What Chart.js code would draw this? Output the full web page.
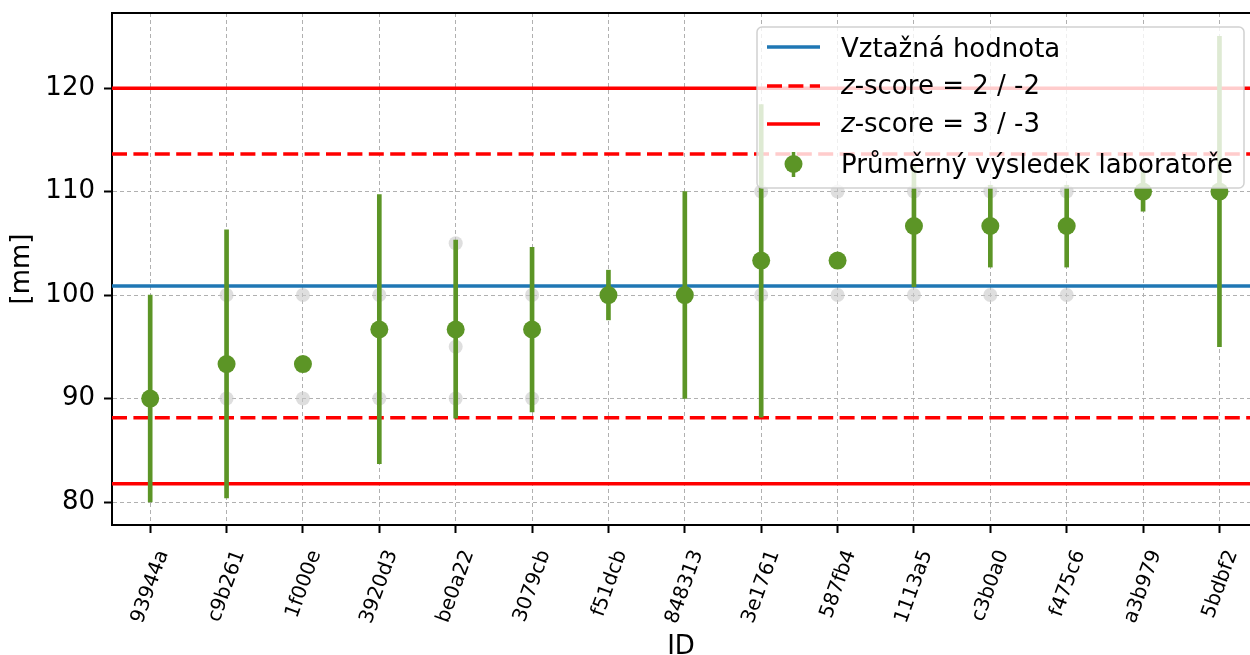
<!DOCTYPE html>
<html>
<head>
<meta charset="utf-8">
<script src="https://cdn.jsdelivr.net/npm/chart.js"></script>
<style>
  html, body { margin: 0; padding: 0; background: #fff; }
</style>
</head>
<body>
<canvas id="myChart" width="1250" height="655"></canvas>
<script>
// data
var ids = ["93944a", "c9b261", "1f000e", "3920d3", "be0a22", "3079cb", "f51dcb", "848313",
  "3e1761", "587fb4", "1113a5", "c3b0a0", "f475c6", "a3b979", "5bdbf2"];
var means = [90, 93.33, 93.33, 96.67, 96.67, 96.67, 100, 100, 103.33, 103.33, 106.67, 106.67, 106.67, 110, 110];
var errLow = [80, 80.4, null, 83.7, 88.1, 88.7, 97.6, 90, 88.2, null, 100.8, 102.7, 102.7, 108.1, 95];
var errHigh = [100, 106.3, null, 109.7, 105.3, 104.6, 102.4, 110, 118.4, null, 112.5, 110.6, 110.6, 111.9, 125];
// individual lab results (grey dots)
var singleIdx = [0, 1, 1, 2, 2, 3, 3, 4, 4, 4, 5, 5, 6, 7, 8, 8, 9, 9, 10, 10, 11, 11, 12, 12, 13, 14];
var singleVal = [90, 100, 90, 100, 90, 100, 90, 105, 95, 90, 100, 90, 100, 100, 110, 100, 110, 100, 110, 100, 110, 100, 110, 100, 110, 110];
var refValue = 100.87;
var z2Limits = [113.62, 88.14];
var z3Limits = [119.97, 81.77];
var yTicks = [80, 90, 100, 110, 120];
var legendLabels = ["Vztažná hodnota", "$z$-score = 2 / -2", "$z$-score = 3 / -3", "Průměrný výsledek laboratoře"];

var xMin = -0.5, xMax = 14.4, yMin = 77.78, yMax = 127.25;
var green = "#5c9526";
var FONT = "'DejaVu Sans', sans-serif";

function hline(y) {
  return [{x: xMin, y: y}, {x: xMax, y: y}];
}

var errData = [];
for (var i = 0; i < ids.length; i++) {
  if (errLow[i] !== null) errData.push({x: i, y: [errLow[i], errHigh[i]]});
}

// let the plot run to the right edge of the canvas (the x axis keeps some padding otherwise)
var fullWidth = {
  id: "fullWidth",
  afterLayout: function (chart) {
    var a = chart.chartArea, x = chart.scales.x;
    a.right = chart.width;
    a.width = a.right - a.left;
    x.right = a.right;
    x.width = a.width;
    x.configure();
  }
};

// top spine + legend drawn over the plot
var frameAndLegend = {
  id: "frameAndLegend",
  afterDraw: function (chart) {
    var ctx = chart.ctx, a = chart.chartArea;
    ctx.save();
    ctx.strokeStyle = "#000";
    ctx.lineWidth = 2;
    ctx.beginPath();
    ctx.moveTo(a.left, a.top);
    ctx.lineTo(a.right, a.top);
    ctx.stroke();

    // legend box
    var bx = 757, by = 27, bw = 487, bh = 161, r = 5;
    ctx.beginPath();
    ctx.moveTo(bx + r, by);
    ctx.arcTo(bx + bw, by, bx + bw, by + bh, r);
    ctx.arcTo(bx + bw, by + bh, bx, by + bh, r);
    ctx.arcTo(bx, by + bh, bx, by, r);
    ctx.arcTo(bx, by, bx + bw, by, r);
    ctx.closePath();
    ctx.fillStyle = "rgba(255,255,255,0.8)";
    ctx.fill();
    ctx.strokeStyle = "rgba(204,204,204,0.9)";
    ctx.lineWidth = 1.5;
    ctx.stroke();

    var rows = [47, 86, 124, 164];
    var baselines = [57, 94, 132, 173];
    var h0 = 767, h1 = 820;
    ctx.lineWidth = 3.5;
    ctx.strokeStyle = "#1f77b4";
    ctx.beginPath(); ctx.moveTo(h0, rows[0]); ctx.lineTo(h1, rows[0]); ctx.stroke();
    ctx.strokeStyle = "#ff0000";
    ctx.setLineDash([15, 6.4]);
    ctx.beginPath(); ctx.moveTo(h0, rows[1]); ctx.lineTo(h1, rows[1]); ctx.stroke();
    ctx.setLineDash([]);
    ctx.beginPath(); ctx.moveTo(h0, rows[2]); ctx.lineTo(h1, rows[2]); ctx.stroke();
    ctx.strokeStyle = green;
    ctx.fillStyle = green;
    ctx.beginPath(); ctx.moveTo(793.5, rows[3] - 12); ctx.lineTo(793.5, rows[3] + 13); ctx.stroke();
    ctx.beginPath(); ctx.arc(793.5, rows[3], 9, 0, Math.PI * 2); ctx.fill();

    ctx.fillStyle = "#000";
    ctx.textBaseline = "alphabetic";
    for (var k = 0; k < legendLabels.length; k++) {
      var parts = legendLabels[k].split("$");
      var tx = 841;
      for (var p = 0; p < parts.length; p++) {
        if (!parts[p]) continue;
        ctx.font = (p % 2 === 1 ? "italic " : "") + "26px " + FONT;
        ctx.fillText(parts[p], tx, baselines[k]);
        tx += ctx.measureText(parts[p]).width;
      }
    }
    ctx.restore();
  }
};

var ctx = document.getElementById("myChart").getContext("2d");
var myChart = new Chart(ctx, {
  type: "scatter",
  data: {
    datasets: [
      {
        type: "scatter",
        label: "means",
        data: ids.map(function (_, i) { return {x: i, y: means[i]}; }),
        pointRadius: 9,
        pointHoverRadius: 9,
        backgroundColor: green,
        borderWidth: 0,
        order: 1
      },
      {
        type: "bar",
        label: "err",
        data: errData,
        backgroundColor: green,
        barThickness: 4,
        grouped: false,
        order: 2
      },
      {
        type: "line",
        label: "ref",
        data: hline(refValue),
        borderColor: "#1f77b4",
        borderWidth: 3.5,
        pointRadius: 0,
        order: 3
      },
      {
        type: "line",
        data: hline(z2Limits[0]),
        borderColor: "#ff0000",
        borderWidth: 3.5,
        borderDash: [15, 6.4],
        pointRadius: 0,
        order: 4
      },
      {
        type: "line",
        data: hline(z2Limits[1]),
        borderColor: "#ff0000",
        borderWidth: 3.5,
        borderDash: [15, 6.4],
        pointRadius: 0,
        order: 4
      },
      {
        type: "line",
        data: hline(z3Limits[0]),
        borderColor: "#ff0000",
        borderWidth: 3.5,
        pointRadius: 0,
        order: 4
      },
      {
        type: "line",
        data: hline(z3Limits[1]),
        borderColor: "#ff0000",
        borderWidth: 3.5,
        pointRadius: 0,
        order: 4
      },
      {
        type: "scatter",
        label: "singles",
        data: singleIdx.map(function (ix, k) { return {x: ix, y: singleVal[k]}; }),
        pointRadius: 7,
        pointHoverRadius: 7,
        backgroundColor: "rgba(200,200,200,0.6)",
        borderWidth: 0,
        order: 6
      }
    ]
  },
  options: {
    responsive: false,
    animation: false,
    devicePixelRatio: 1,
    layout: { padding: { top: 13, right: 0, left: 0, bottom: 0 } },
    plugins: {
      legend: { display: false },
      tooltip: { enabled: false }
    },
    scales: {
      x: {
        type: "linear",
        min: xMin,
        max: xMax,
        offset: false,
        afterBuildTicks: function (s) { s.ticks = ids.map(function (_, i) { return {value: i}; }); },
        afterFit: function (s) { s.height = 130; s.paddingLeft = 0; s.paddingRight = 0; },
        ticks: {
          callback: function (v) { return ids[v]; },
          minRotation: 70,
          maxRotation: 70,
          autoSkip: false,
          padding: 14,
          labelOffset: 13,
          color: "#000",
          font: { family: FONT, size: 20 }
        },
        grid: { color: "#b0b0b0", lineWidth: 1, tickColor: "#000", tickLength: 8, tickWidth: 2, offset: false },
        border: { color: "#000", width: 2, dash: [4, 3] },
        title: { display: true, text: "ID", color: "#000", font: { family: FONT, size: 26, lineHeight: 0.6 }, padding: 0 }
      },
      y: {
        type: "linear",
        min: yMin,
        max: yMax,
        afterBuildTicks: function (s) { s.ticks = yTicks.map(function (v) { return {value: v}; }); },
        afterFit: function (s) { s.width = 112; s.paddingTop = 0; s.paddingBottom = 0; },
        ticks: {
          padding: 9,
          color: "#000",
          font: { family: FONT, size: 26 }
        },
        grid: { color: "#b0b0b0", lineWidth: 1, tickColor: "#000", tickLength: 8, tickWidth: 2 },
        border: { color: "#000", width: 2, dash: [4, 3] },
        title: { display: true, text: "[mm]", color: "#000", font: { family: FONT, size: 26, lineHeight: 0.75 }, padding: { top: 12, bottom: 0 } }
      }
    }
  },
  plugins: [fullWidth, frameAndLegend]
});
</script>
</body>
</html>
